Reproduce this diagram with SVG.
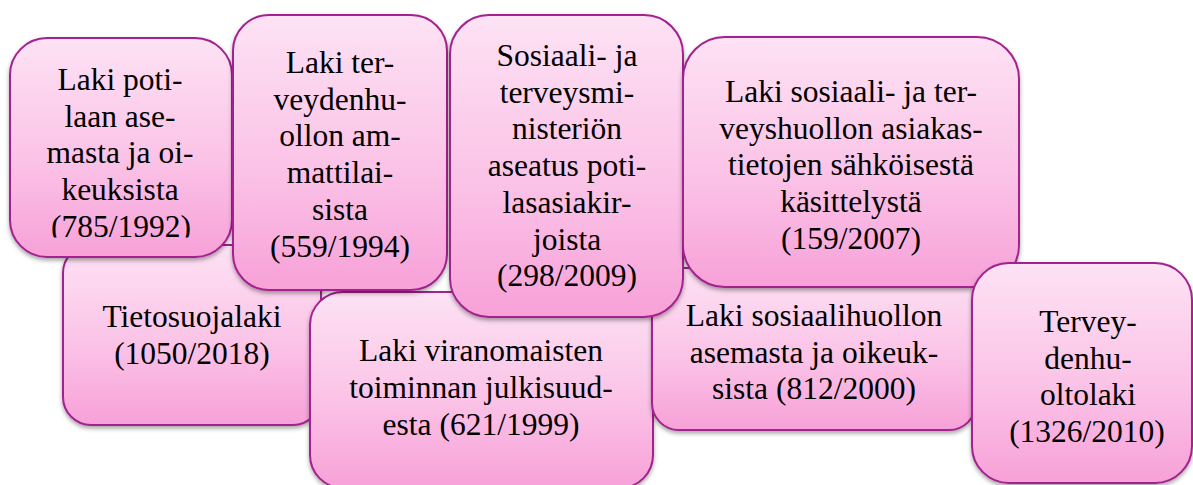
<svg xmlns="http://www.w3.org/2000/svg" width="1193" height="485" viewBox="0 0 1193 485">
  <defs>
    <linearGradient id="pink" x1="0" y1="0" x2="0" y2="1">
      <stop offset="0" stop-color="#fde2f4"/>
      <stop offset="0.55" stop-color="#fbc3e7"/>
      <stop offset="1" stop-color="#f7a1d8"/>
    </linearGradient>
    <filter id="shadow" x="-10%" y="-10%" width="120%" height="125%">
      <feDropShadow dx="0" dy="2.5" stdDeviation="2" flood-color="#000" flood-opacity="0.35"/>
    </filter>
    <clipPath id="clip1">
      <rect x="0" y="0" width="300" height="237.5"/>
    </clipPath>
  </defs>
  <style>
    .box { fill: url(#pink); stroke: #a3218d; stroke-width: 2; filter: url(#shadow); }
    .t { font-family: 'Liberation Serif', 'Times New Roman', serif; font-size: 31.5px; fill: #000; text-anchor: middle; }
  </style>
  <rect width="1193" height="485" fill="#ffffff"/>
  <g id="connectors"></g>

  <g id="n5">
    <rect class="box" x="63" y="245" width="258" height="180" rx="28" ry="28"/>
    <text class="t" x="192" y="327">Tietosuojalaki</text>
    <text class="t" x="192" y="363.5">(1050/2018)</text>
  </g>

  <g id="n6">
    <rect class="box" x="310" y="292" width="343" height="196" rx="33" ry="33"/>
    <text class="t" x="481" y="361">Laki viranomaisten</text>
    <text class="t" x="481" y="398">toiminnan julkisuud-</text>
    <text class="t" x="481" y="435">esta (621/1999)</text>
  </g>

  <g id="n7">
    <rect class="box" x="652" y="268" width="324" height="162" rx="27" ry="27"/>
    <text class="t" x="814" y="326">Laki sosiaalihuollon</text>
    <text class="t" x="814" y="362.7">asemasta ja oikeuk-</text>
    <text class="t" x="814" y="399.4">sista (812/2000)</text>
  </g>

  <g id="n1">
    <rect class="box" x="10" y="38" width="222" height="219" rx="37" ry="37"/>
    <text class="t" x="120" y="90">Laki poti-</text>
    <text class="t" x="120" y="126.7">laan ase-</text>
    <text class="t" x="120" y="163.4">masta ja oi-</text>
    <text class="t" x="120" y="200">keuksista</text>
    <text class="t" x="121" y="236.8" clip-path="url(#clip1)">(785/1992)</text>
  </g>

  <g id="n2">
    <rect class="box" x="233" y="15" width="214" height="275" rx="36" ry="36"/>
    <text class="t" x="340" y="73">Laki ter-</text>
    <text class="t" x="340" y="109.7">veydenhu-</text>
    <text class="t" x="340" y="146.4">ollon am-</text>
    <text class="t" x="340" y="183">mattilai-</text>
    <text class="t" x="340" y="219.8">sista</text>
    <text class="t" x="340" y="256.5">(559/1994)</text>
  </g>

  <g id="n3">
    <rect class="box" x="450" y="15" width="233" height="302" rx="39" ry="39"/>
    <text class="t" x="567" y="66">Sosiaali- ja</text>
    <text class="t" x="567" y="102.7">terveysmi-</text>
    <text class="t" x="567" y="139.4">nisteriön</text>
    <text class="t" x="567" y="176">aseatus poti-</text>
    <text class="t" x="567" y="212.8">lasasiakir-</text>
    <text class="t" x="567" y="249.5">joista</text>
    <text class="t" x="567" y="286.2">(298/2009)</text>
  </g>

  <g id="n4">
    <rect class="box" x="683" y="37" width="336" height="250" rx="42" ry="42"/>
    <text class="t" x="851" y="102">Laki sosiaali- ja ter-</text>
    <text class="t" x="851" y="138.7">veyshuollon asiakas-</text>
    <text class="t" x="851" y="175.4">tietojen sähköisestä</text>
    <text class="t" x="851" y="212">käsittelystä</text>
    <text class="t" x="851" y="248.8">(159/2007)</text>
  </g>

  <g id="n8">
    <rect class="box" x="972" y="263" width="220" height="220" rx="37" ry="37"/>
    <text class="t" x="1088" y="332">Tervey-</text>
    <text class="t" x="1088" y="368.7">denhu-</text>
    <text class="t" x="1088" y="405.4">oltolaki</text>
    <text class="t" x="1087" y="442">(1326/2010)</text>
  </g>
</svg>
